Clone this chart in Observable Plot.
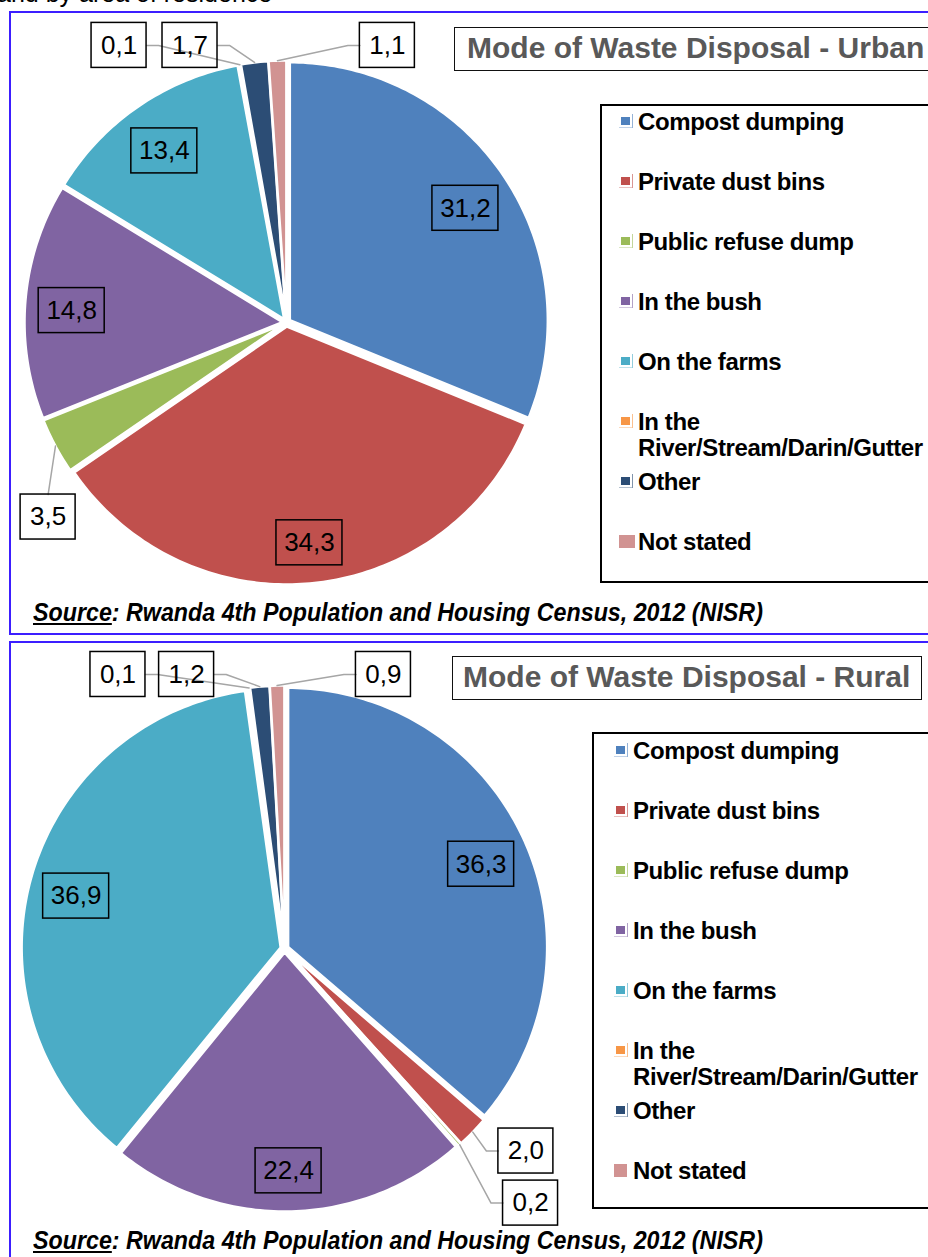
<!DOCTYPE html>
<html><head><meta charset="utf-8">
<script src="https://cdn.jsdelivr.net/npm/d3@7"></script>
<script src="https://cdn.jsdelivr.net/npm/@observablehq/plot@0.6"></script>
<style>
html,body{margin:0;padding:0;background:#fff;}
body{width:928px;height:1257px;overflow:hidden;position:relative;font-family:"Liberation Sans",Arial,sans-serif;}
.abs{position:absolute;}
.panel{position:absolute;border:2px solid rgb(60,30,255);box-sizing:border-box;}
.titlebox{position:absolute;border:1.5px solid #111;box-sizing:border-box;font-weight:bold;color:#595959;font-size:30px;line-height:40px;white-space:nowrap;background:#fff;}
.legendbox{position:absolute;border:2px solid #000;box-sizing:border-box;background:#fff;}
.legtext{position:absolute;font-weight:bold;font-size:24px;line-height:26px;letter-spacing:-0.4px;color:#000;width:288px;}
.sw{position:absolute;}
.source{position:absolute;font-weight:bold;font-style:italic;font-size:25px;line-height:28px;white-space:nowrap;transform:scaleX(0.93);transform-origin:left center;color:#000;}
.plotwrap{position:absolute;left:0;width:928px;}
.plotwrap svg{max-width:none !important;overflow:visible;}
</style></head><body>
<script>
// ---------- data ----------
const categories = ["Compost dumping","Private dust bins","Public refuse dump","In the bush","On the farms","In the River/Stream/Darin/Gutter","Other","Not stated"];
const urbanValues = [31.2, 34.3, 3.5, 14.8, 13.4, 0.1, 1.7, 1.1];
const ruralValues = [36.3, 2.0, 0.2, 22.4, 36.9, 0.1, 1.2, 0.9];
const colors = ["#4f81bd","#c0504d","#9bbb59","#8064a2","#4bacc6","#f79646","#2c4d75","#d19392"];
const titles = ["Mode of Waste Disposal - Urban","Mode of Waste Disposal - Rural"];
const sourceLabel = "Source";
const sourceRest = ": Rwanda 4th Population and Housing Census, 2012 (NISR)";
const headerFragment = "and by area of residence";

// ---------- layout (positions only) ----------
// outside data-label placement, in pie-radius units relative to pie centre (y up), and the side the leader attaches to
const urbanOutside = {
  "In the River/Stream/Darin/Gutter": [-0.649, 1.074, "right"],
  "Other": [-0.374, 1.074, "right"],
  "Not stated": [0.391, 1.074, "left"],
  "Public refuse dump": [-0.924, -0.754, "top"]
};
const ruralOutside = {
  "In the River/Stream/Darin/Gutter": [-0.643, 1.058, "right"],
  "Other": [-0.378, 1.058, "right"],
  "Not stated": [0.382, 1.058, "left"],
  "Private dust bins": [0.932, -0.782, "left"],
  "Public refuse dump": [0.950, -0.983, "left"]
};
const panels = [
  {values: urbanValues, title: titles[0], outside: urbanOutside, top: 11, h: 624, cx: 286, cy: 311, R: 258,
   titleBox: [454, 27, 480, 44, 12], legend: [600, 104, 340, 479], legendSw: 621, legendText: 638, legendY: 122, sourceY: 612},
  {values: ruralValues, title: titles[1], outside: ruralOutside, top: 641, h: 620, cx: 284, cy: 307, R: 259,
   titleBox: [452, 656, 470, 44, 10], legend: [592, 732, 350, 477], legendSw: 616, legendText: 633, legendY: 751, sourceY: 1240}
];
const EXPLODE = 4;   // px
const fmt = v => v.toFixed(1).replace(".", ",");

const body = document.body;
function el(tag, cls, css, html) {
  const e = document.createElement(tag);
  if (cls) e.className = cls;
  Object.assign(e.style, css || {});
  if (html != null) e.innerHTML = html;
  body.appendChild(e);
  return e;
}

// header fragment (cut off at top of the crop, as in the reference)
el("div", "abs", {left: "-3px", top: "-19px", fontSize: "25px", lineHeight: "25px", whiteSpace: "nowrap"}, headerFragment);

panels.forEach((p, pi) => {
  el("div", "panel", {left: "9px", top: p.top + "px", width: "940px", height: (pi === 0 ? 624 : 660) + "px"});
  const [tx, ty, tw, th, tpad] = p.titleBox;
  el("div", "titlebox", {left: tx + "px", top: ty + "px", width: tw + "px", height: th + "px", paddingLeft: tpad + "px"}, p.title);
  const [lx, ly, lw, lh] = p.legend;
  el("div", "legendbox", {left: lx + "px", top: ly + "px", width: lw + "px", height: lh + "px"});
  categories.forEach((c, i) => {
    const yc = p.legendY + i * 60;
    if (c === "Not stated") {
      el("div", "sw", {left: (p.legendSw - 2) + "px", top: (yc - 7) + "px", width: (pi === 0 ? 16 : 13) + "px", height: "13px", background: colors[i]});
    } else {
      el("div", "sw", {left: p.legendSw + "px", top: (yc - 5) + "px", width: "9px", height: "8px", background: colors[i]});
      el("div", "sw", {left: (p.legendSw + 11) + "px", top: (yc - 8) + "px", width: "1px", height: "14px", background: colors[i], opacity: 0.6});
      el("div", "sw", {left: (p.legendSw - 2) + "px", top: (yc + 5) + "px", width: "13px", height: "1px", background: colors[i], opacity: 0.35});
    }
    el("div", "legtext", {left: p.legendText + "px", top: (yc - 13) + "px"}, c);
  });
  el("div", "source", {left: "33px", top: (p.sourceY - 14) + "px"}, "<u>" + sourceLabel + "</u>" + sourceRest);

  // ---------- pie geometry from data ----------
  const rows = categories.map((c, i) => ({cat: c, value: p.values[i]}));
  const arcs = d3.pie().sort(null).value(d => d.value)(rows);
  const e = EXPLODE / p.R;
  const poly = [];
  const labels = [];
  const leaders = [];
  arcs.forEach(a => {
    const mid = (a.startAngle + a.endAngle) / 2;
    const ox = Math.sin(mid) * e, oy = Math.cos(mid) * e;
    const n = Math.max(2, Math.ceil((a.endAngle - a.startAngle) / (Math.PI / 180)));
    poly.push({cat: a.data.cat, x: ox, y: oy});
    for (let k = 0; k <= n; k++) {
      const t = a.startAngle + (a.endAngle - a.startAngle) * k / n;
      poly.push({cat: a.data.cat, x: ox + Math.sin(t), y: oy + Math.cos(t)});
    }
    const text = fmt(a.data.value);
    const hw = (text.length > 3 ? 33 : 27.5) / p.R, hh = 22.5 / p.R;
    const out = p.outside[a.data.cat];
    if (out) {
      const [bx, by, side] = out;
      labels.push({text, x: bx, y: by, x1: bx - hw, x2: bx + hw, y1: by - hh, y2: by + hh});
      const rr = 1 + e;
      const edge = {x: Math.sin(mid) * rr, y: Math.cos(mid) * rr};
      let anchor, elbow;
      const el12 = 12 / p.R;
      if (side === "right") { anchor = {x: bx + hw, y: by}; elbow = {x: bx + hw + el12, y: by}; }
      else if (side === "left") { anchor = {x: bx - hw, y: by}; elbow = {x: bx - hw - el12, y: by}; }
      else { anchor = {x: bx, y: by + hh}; elbow = {x: bx, y: by + hh}; }
      [anchor, elbow, edge].forEach(pt => leaders.push({cat: a.data.cat, x: pt.x, y: pt.y}));
    } else {
      const r = 0.82 + e;
      const lx0 = Math.sin(mid) * r, ly0 = Math.cos(mid) * r - 6 / p.R;
      labels.push({text, x: lx0, y: ly0, x1: lx0 - hw, x2: lx0 + hw, y1: ly0 - hh, y2: ly0 + hh});
    }
  });

  const chart = Plot.plot({
    width: 928, height: p.h, margin: 0,
    x: {domain: [-1, 1], range: [p.cx - p.R, p.cx + p.R], axis: null},
    y: {domain: [-1, 1], range: [p.cy + p.R, p.cy - p.R], axis: null},
    color: {domain: categories, range: colors},
    style: {background: "transparent", overflow: "visible"},
    marks: [
      Plot.line(poly, {x: "x", y: "y", z: "cat", fill: "cat", stroke: "white", strokeWidth: 2.5, curve: "linear-closed"}),
      Plot.line(leaders, {x: "x", y: "y", z: "cat", stroke: "#a6a6a6", strokeWidth: 1.5}),
      Plot.rect(labels, {x1: "x1", x2: "x2", y1: "y1", y2: "y2", fill: "none", stroke: "#000", strokeWidth: 1.5}),
      Plot.text(labels, {x: "x", y: "y", text: "text", fontSize: 26, fill: "#000", fontFamily: "Liberation Sans, Arial, sans-serif"})
    ]
  });
  const wrap = el("div", "plotwrap", {top: p.top + "px", height: p.h + "px"});
  wrap.appendChild(chart);
});
</script>
</body></html>
